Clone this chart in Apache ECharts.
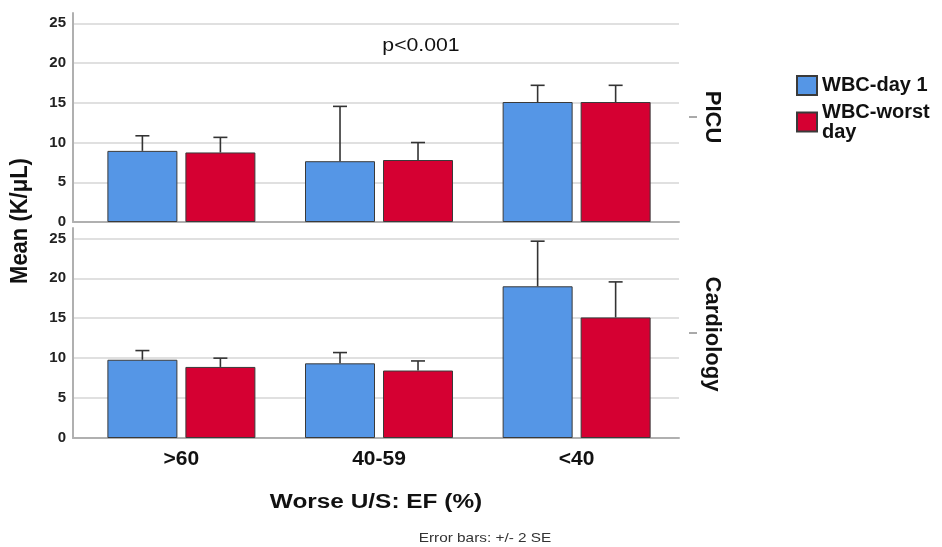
<!DOCTYPE html>
<html>
<head>
<meta charset="utf-8">
<script src="https://cdn.jsdelivr.net/npm/echarts@6/dist/echarts.min.js"></script>
<style>
html, body { margin: 0; padding: 0; background: #fff; }
#main { width: 942px; height: 547px; }
</style>
</head>
<body>
<div id="main"></div>
<script>
// data
var categories = ['>60', '40-59', '<40'];
var catPos = [0, 1, 2];
var seriesNames = ['WBC-day 1', 'WBC-worst day'];
var panels = ['PICU', 'Cardiology'];

// PICU panel: means and upper end of the error bar (+2 SE)
var picuDay1 = [8.95, 7.65, 15.1];
var picuDay1Upper = [10.85, 14.55, 17.2];
var picuWorst = [8.75, 7.8, 15.1];
var picuWorstUpper = [10.65, 10.0, 17.2];

// Cardiology panel
var cardDay1 = [9.8, 9.35, 19.0];
var cardDay1Upper = [10.95, 10.7, 24.65];
var cardWorst = [8.9, 8.45, 15.1];
var cardWorstUpper = [10.0, 9.65, 19.55];

var yTicks = [0, 5, 10, 15, 20, 25];
var yMin = 0, yMax = 26.3;

var BLUE = '#5596e6';
var RED = '#d50032';
var BAR_W = 70;
var BAR_GAP = 8;
var CAP = 7;
var FONT = 'Liberation Sans, Arial, sans-serif';

var mychart = echarts.init(document.getElementById('main'));

function pairs(values) {
	return values.map(function(v, i) { return [catPos[i], v]; });
}

function errData(means, uppers) {
	return means.map(function(m, i) { return [catPos[i], m, uppers[i]]; });
}

function errorBar(side) {
	return function(params, api) {
		var base = api.coord([api.value(0), api.value(1)]);
		var top = api.coord([api.value(0), api.value(2)]);
		var x = base[0] + side * (BAR_W + BAR_GAP) / 2;
		var st = { stroke: '#333', lineWidth: 1.6 };
		return {
			type : 'group',
			children : [
				{ type : 'line', shape : { x1 : x, y1 : base[1], x2 : x, y2 : top[1] }, style : st },
				{ type : 'line', shape : { x1 : x - CAP, y1 : top[1], x2 : x + CAP, y2 : top[1] }, style : st }
			]
		};
	};
}

function xAxisFor(gi, showLabels) {
	return {
		type : 'value',
		gridIndex : gi,
		min : -0.5485,
		max : 2.518,
		splitLine : { show : false },
		axisLine : { show : true, onZero : false, lineStyle : { color : '#b0b0b0', width : 2 } },
		axisTick : { show : false },
		axisLabel : {
			show : showLabels,
			customValues : catPos,
			formatter : function(v) { return categories[Math.round(v)]; },
			margin : 11,
			fontFamily : FONT,
			fontWeight : 'bold',
			fontSize : 21,
			color : '#111'
		}
	};
}

function yAxisFor(gi) {
	return {
		type : 'value',
		gridIndex : gi,
		min : yMin,
		max : yMax,
		interval : 5,
		axisLine : { show : true, onZero : false, lineStyle : { color : '#b0b0b0', width : 2 } },
		axisTick : { show : false },
		splitLine : { show : true, showMaxLine : false, lineStyle : { color : '#d6d6d6', width : 1.5 } },
		axisLabel : {
			customValues : yTicks,
			margin : 7,
			fontFamily : FONT,
			fontWeight : 'bold',
			fontSize : 15,
			color : '#222'
		}
	};
}

function barSeries(name, color, gi, values) {
	return {
		name : name,
		type : 'bar',
		xAxisIndex : gi,
		yAxisIndex : gi,
		data : pairs(values),
		barWidth : BAR_W,
		barGap : (BAR_GAP / BAR_W * 100) + '%',
		itemStyle : { color : color, borderColor : '#3a3a3a', borderWidth : 1 }
	};
}

function errSeries(gi, side, means, uppers) {
	return {
		type : 'custom',
		xAxisIndex : gi,
		yAxisIndex : gi,
		renderItem : errorBar(side),
		encode : { x : 0, y : [1, 2] },
		data : errData(means, uppers),
		z : 5,
		silent : true
	};
}

function txt(text, x, y, font, opts, fill) {
	var o = {
		type : 'text',
		x : x,
		y : y,
		style : {
			text : text,
			font : font,
			fill : fill || '#111',
			textAlign : 'center',
			textVerticalAlign : 'middle'
		}
	};
	for (var k in opts) o[k] = opts[k];
	return o;
}

var option = {
	animation : false,
	backgroundColor : '#fff',
	grid : [
		{ left : 73, width : 606, top : 13, height : 209 },
		{ left : 73, width : 606, top : 228, height : 210 }
	],
	xAxis : [ xAxisFor(0, false), xAxisFor(1, true) ],
	yAxis : [ yAxisFor(0), yAxisFor(1) ],
	legend : {
		orient : 'vertical',
		left : 796,
		top : 75,
		padding : 0,
		itemWidth : 20,
		itemHeight : 19,
		itemGap : 6,
		icon : 'rect',
		data : seriesNames,
		formatter : function(name) {
			return name === 'WBC-worst day' ? 'WBC-worst\nday' : name;
		},
		textStyle : {
			fontFamily : FONT,
			fontWeight : 'bold',
			fontSize : 20,
			lineHeight : 20,
			color : '#111'
		}
	},
	series : [
		barSeries(seriesNames[0], BLUE, 0, picuDay1),
		barSeries(seriesNames[1], RED, 0, picuWorst),
		barSeries(seriesNames[0], BLUE, 1, cardDay1),
		barSeries(seriesNames[1], RED, 1, cardWorst),
		errSeries(0, -1, picuDay1, picuDay1Upper),
		errSeries(0, 1, picuWorst, picuWorstUpper),
		errSeries(1, -1, cardDay1, cardDay1Upper),
		errSeries(1, 1, cardWorst, cardWorstUpper)
	],
	graphic : [
		txt('Mean (K/μL)', 20, 221, 'bold 22px ' + FONT, { rotation : Math.PI / 2, scaleY : 1.1 }),
		txt('p<0.001', 421, 46, '18px ' + FONT, { scaleX : 1.18 }),
		txt(panels[0], 712, 117, 'bold 22px ' + FONT, { rotation : -Math.PI / 2 }),
		txt(panels[1], 712, 334, 'bold 22px ' + FONT, { rotation : -Math.PI / 2 }),
		{ type : 'line', shape : { x1 : 689, y1 : 117, x2 : 697, y2 : 117 }, style : { stroke : '#555', lineWidth : 1 } },
		{ type : 'line', shape : { x1 : 689, y1 : 333, x2 : 697, y2 : 333 }, style : { stroke : '#555', lineWidth : 1 } },
		txt('Worse U/S: EF (%)', 376, 502, 'bold 20px ' + FONT, { scaleX : 1.22 }),
		txt('Error bars: +/- 2 SE', 485, 538, '13px ' + FONT, { scaleX : 1.18 }, '#333')
	]
};

mychart.setOption(option);
</script>
</body>
</html>
